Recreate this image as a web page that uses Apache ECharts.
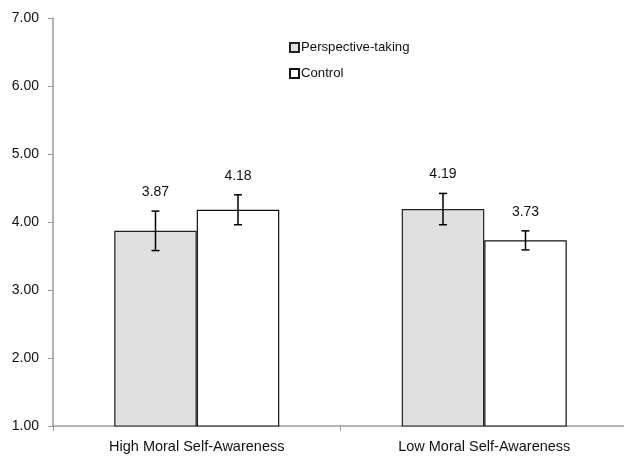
<!DOCTYPE html>
<html><head><meta charset="utf-8">
<script src="https://cdn.jsdelivr.net/npm/echarts@6/dist/echarts.min.js"></script>
<style>html,body{margin:0;padding:0;background:#fff}#c{width:624px;height:457px}</style>
</head><body><div id="c"></div>
<script>
const categories = ['High Moral Self-Awareness', 'Low Moral Self-Awareness'];
const seriesNames = ['Perspective-taking', 'Control'];
const perspectiveTaking = [3.87, 4.19];
const control = [4.18, 3.73];
const perspectiveErr = [0.29, 0.23];
const controlErr = [0.22, 0.14];
const yTicks = [1, 2, 3, 4, 5, 6, 7];

const FONT = 'Liberation Sans';
const BAR_W = 0.287;

function errSeries(idx, means, errs) {
  return {
    type: 'custom',
    z: 5,
    silent: true,
    data: means.map((m, i) => [i, m, errs[i]]),
    renderItem: function (params, api) {
      const ci = api.value(0), m = api.value(1), e = api.value(2);
      const band = api.size([1, 0])[0];
      const bw = band * BAR_W;
      const off = (idx === 0 ? -1 : 1) * bw / 2;
      const top = api.coord([ci, m + e]);
      const bot = api.coord([ci, m - e]);
      const x = top[0] + off;
      const cap = 4;
      const st = { stroke: '#000', lineWidth: 1.5 };
      return {
        type: 'group',
        children: [
          { type: 'line', shape: { x1: x, y1: top[1], x2: x, y2: bot[1] }, style: st },
          { type: 'line', shape: { x1: x - cap, y1: top[1], x2: x + cap, y2: top[1] }, style: st },
          { type: 'line', shape: { x1: x - cap, y1: bot[1], x2: x + cap, y2: bot[1] }, style: st },
          { type: 'text', style: { text: m.toFixed(2), x: x, y: top[1] - 19, align: 'center', verticalAlign: 'middle', fill: '#111', font: '14px "' + FONT + '"' } }
        ]
      };
    }
  };
}

const chart = echarts.init(document.getElementById('c'));
chart.setOption({
  animation: false,
  textStyle: { fontFamily: FONT },
  grid: { left: 53, top: 18, width: 575, bottom: 31, containLabel: false, outerBoundsMode: 'none' },
  legend: {
    orient: 'vertical',
    left: 284,
    top: 36,
    itemWidth: 9,
    itemHeight: 9,
    itemGap: 13,
    icon: 'rect',
    data: seriesNames,
    textStyle: { color: '#111', fontSize: 13.2, fontFamily: FONT, padding: [0, 0, 0, -3] }
  },
  xAxis: {
    type: 'category',
    data: categories,
    axisLine: { lineStyle: { color: '#9a9a9a', width: 1.5 } },
    axisTick: { show: true, length: 5, lineStyle: { color: '#9a9a9a' } },
    axisLabel: { color: '#111', fontSize: 14.5, margin: 13, fontFamily: FONT }
  },
  yAxis: {
    type: 'value',
    min: 1,
    max: 7,
    interval: 1,
    splitLine: { show: false },
    axisLine: { show: true, lineStyle: { color: '#9a9a9a', width: 1.5 } },
    axisTick: { show: true, length: 5, lineStyle: { color: '#9a9a9a' } },
    axisLabel: {
      color: '#111', fontSize: 14, margin: 14, fontFamily: FONT,
      customValues: yTicks,
      formatter: v => v.toFixed(2)
    }
  },
  series: [
    {
      name: seriesNames[0], type: 'bar', data: perspectiveTaking,
      barWidth: (BAR_W * 100) + '%', barGap: '0%',
      itemStyle: { color: '#e0e0e0', borderColor: '#222', borderWidth: 1.2 }
    },
    {
      name: seriesNames[1], type: 'bar', data: control,
      barWidth: (BAR_W * 100) + '%', barGap: '0%',
      itemStyle: { color: '#ffffff', borderColor: '#111', borderWidth: 1.2 }
    },
    errSeries(0, perspectiveTaking, perspectiveErr),
    errSeries(1, control, controlErr)
  ]
});
</script></body></html>
